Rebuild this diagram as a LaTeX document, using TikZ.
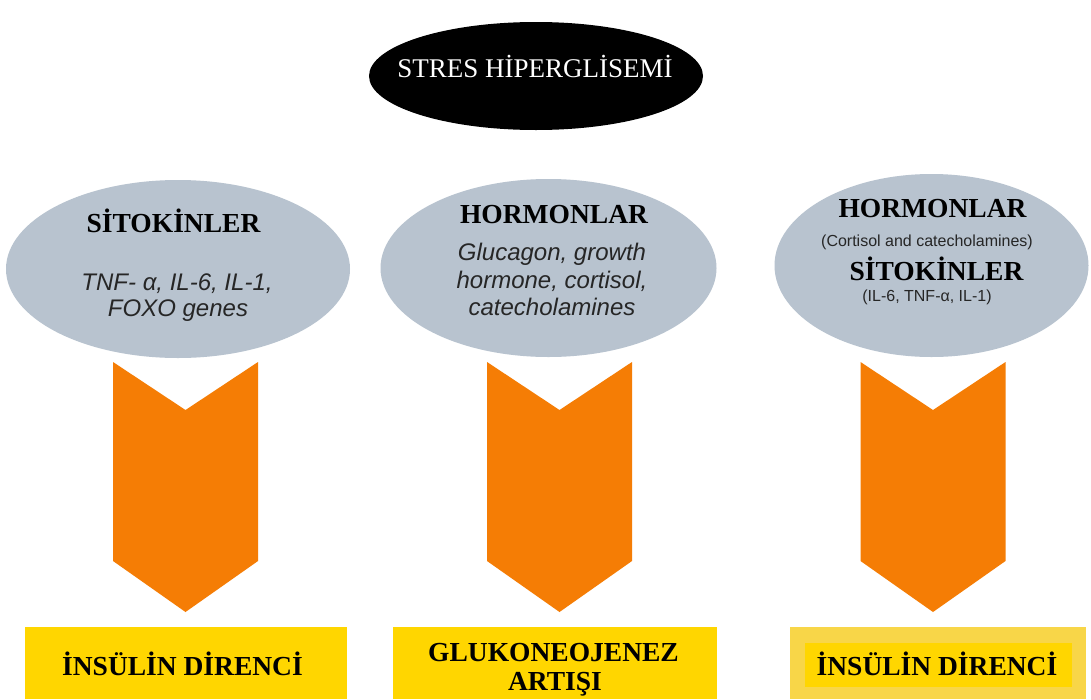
\documentclass[tikz,border=0pt]{standalone}
\usepackage{fontspec}
\setmainfont{Liberation Serif}
\setsansfont{Liberation Sans}
\usetikzlibrary{shapes.geometric}
\definecolor{ellgray}{RGB}{184,195,207}
\definecolor{chevorange}{RGB}{245,125,5}
\definecolor{boxyellow}{RGB}{255,214,0}
\definecolor{boxpale}{RGB}{248,214,72}
\tikzset{
  x=1pt, y=-1pt,
  oval/.style={ellipse, fill=ellgray, draw=none, inner sep=0pt},
  hdr/.style={font=\fontsize{27.5}{30}\selectfont\bfseries, anchor=base, inner sep=0pt},
  itl/.style={font=\sffamily\itshape\fontsize{24}{28}\selectfont, text=black!85, anchor=base, inner sep=0pt},
  small/.style={font=\sffamily\fontsize{16}{19}\selectfont, text=black!85, anchor=base, inner sep=0pt},
  chev/.style={fill=chevorange, draw=none},
  ybox/.style={fill=boxyellow, draw=none},
}
\newcommand{\chevron}[1]{%
  \fill[chevorange] (#1-72.5,362) -- (#1,410) -- (#1+72.5,362) -- (#1+72.5,561)
    -- (#1,612) -- (#1-72.5,561) -- cycle;}
\begin{document}
\begin{tikzpicture}
\useasboundingbox (0,0) rectangle (1091,699);
\fill[white] (0,0) rectangle (1091,699);
% top
\node[ellipse, fill=black, inner sep=0pt, minimum width=334pt, minimum height=108pt] (top) at (536,76) {};
\node[font=\fontsize{27}{30}\selectfont, text=white, anchor=base, inner sep=0pt] (toptxt) at (535,77) {STRES HİPERGLİSEMİ};
% ellipses
\node[oval, minimum width=344pt, minimum height=178pt] (e1) at (178,269) {};
\node[oval, minimum width=336pt, minimum height=178pt] (e2) at (548.5,268) {};
\node[oval, minimum width=314pt, minimum height=183pt] (e3) at (931.5,265.5) {};
% left texts
\node[hdr] (h1) at (173.5,232.5) {SİTOKİNLER};
\node[itl] (t1a) at (177,290) {TNF- α, IL-6, IL-1,};
\node[itl] (t1b) at (178,316.5) {FOXO genes};
% middle texts
\node[hdr] (h2) at (554,223) {HORMONLAR};
\node[itl] (t2a) at (552,260) {Glucagon, growth};
\node[itl] (t2b) at (552,288) {hormone, cortisol,};
\node[itl] (t2c) at (552,315) {catecholamines};
% right texts
\node[hdr] (h3) at (932.5,217) {HORMONLAR};
\node[small] (t3a) at (927,246) {(Cortisol and catecholamines)};
\node[hdr] (h4) at (936.5,280) {SİTOKİNLER};
\node[small] (t3b) at (927,301) {(IL-6, TNF-α, IL-1)};
% chevrons
\chevron{185.5}
\chevron{559.5}
\chevron{933}
% boxes
\fill[boxyellow] (25,627) rectangle (347,699);
\fill[boxyellow] (393,627) rectangle (717,699);
\fill[boxpale] (790,627) rectangle (1086,699);
\fill[boxyellow] (805,643) rectangle (1072,687);
\node[hdr] (b1) at (182.5,675) {İNSÜLİN DİRENCİ};
\node[hdr] (b2a) at (553.5,661.5) {GLUKONEOJENEZ};
\node[hdr] (b2b) at (555,690.5) {ARTIŞI};
\node[hdr] (b3) at (937,675) {İNSÜLİN DİRENCİ};
\end{tikzpicture}
\end{document}
